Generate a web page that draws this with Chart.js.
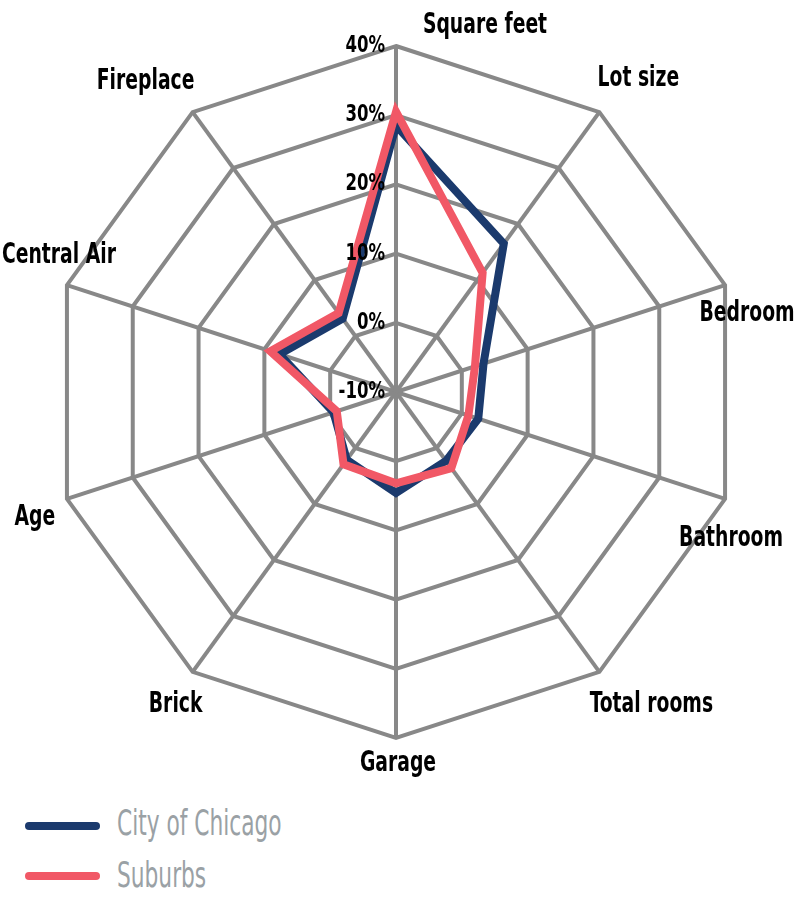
<!DOCTYPE html>
<html>
<head>
<meta charset="utf-8">
<script src="https://cdn.jsdelivr.net/npm/chart.js@4.4.1/dist/chart.umd.min.js"></script>
<style>
html,body{margin:0;padding:0;background:#fff;}
#wrap{position:relative;width:800px;height:900px;overflow:hidden;}
canvas{display:block;}
.swatch{position:absolute;left:25px;width:75px;height:8px;border-radius:4px;}
.txt{position:absolute;left:117px;font-family:"DejaVu Sans Condensed","Liberation Sans Narrow",sans-serif;font-size:35px;line-height:36px;color:#9aa1a5;transform:scaleX(0.69);transform-origin:left center;white-space:nowrap;}
</style>
</head>
<body>
<div id="wrap">
<canvas id="c" width="800" height="790"></canvas>
<div class="swatch" id="sw0" style="top:822px;"></div>
<div class="txt" id="tx0" style="top:805px;"></div>
<div class="swatch" id="sw1" style="top:872px;"></div>
<div class="txt" id="tx1" style="top:857px;"></div>
</div>
<script>
// ---- data ----
const categories = ['Square feet','Lot size','Bedroom','Bathroom','Total rooms','Garage','Brick','Age','Central Air','Fireplace'];
const cityValues = [28.5, 16.5, 3.3, 2.5, 2.3, 4.6, 2.1, -0.5, 7.7, 3.1];
const suburbValues = [30.5, 11.3, 2.0, 1.0, 3.6, 3.2, 2.9, -1.0, 9.1, 4.1];
const seriesNames = ['City of Chicago', 'Suburbs'];
const tickMin = -10, tickMax = 40, tickStep = 10;

// ---- styling ----
const seriesColors = ['#1b3a6d', '#f15866'];
const gridColor = '#888888';
const labelOffsets = [[89,-21],[39,-34],[22,28],[6,40],[52,33],[2,25],[-17,33],[-32,19],[-8,-30],[-47,-31]];
const labelFont = 'bold 29px "DejaVu Sans Condensed", "Liberation Sans Narrow", sans-serif';
const tickFont = 'bold 23px "DejaVu Sans Condensed", "Liberation Sans Narrow", sans-serif';
const labelSqueeze = 0.72, tickSqueeze = 0.8;

function squeezedText(ctx, text, x, y, sx) {
  ctx.save();
  ctx.translate(x, y);
  ctx.scale(sx, 1);
  ctx.fillText(text, 0, 0);
  ctx.restore();
}

const customText = {
  id: 'customText',
  afterDraw(chart) {
    const s = chart.scales.r;
    const ctx = chart.ctx;
    ctx.save();
    ctx.fillStyle = '#000';
    ctx.textBaseline = 'middle';
    // tick labels
    ctx.font = tickFont;
    ctx.textAlign = 'right';
    s.ticks.forEach(t => {
      const d = s.getDistanceFromCenterForValue(t.value);
      squeezedText(ctx, t.value + '%', s.xCenter - 11, s.yCenter - d, tickSqueeze);
    });
    // category labels
    ctx.font = labelFont;
    ctx.textAlign = 'center';
    chart.data.labels.forEach((lab, i) => {
      const p = s.getPointPosition(i, s.drawingArea);
      squeezedText(ctx, lab, p.x + labelOffsets[i][0], p.y + labelOffsets[i][1], labelSqueeze);
    });
    ctx.restore();
  }
};

new Chart(document.getElementById('c'), {
  type: 'radar',
  data: {
    labels: categories,
    datasets: [
      { label: seriesNames[0], data: cityValues, borderColor: seriesColors[0], backgroundColor: 'transparent',
        borderWidth: 8, pointRadius: 0, pointHoverRadius: 0, fill: false, order: 2 },
      { label: seriesNames[1], data: suburbValues, borderColor: seriesColors[1], backgroundColor: 'transparent',
        borderWidth: 8, pointRadius: 0, pointHoverRadius: 0, fill: false, order: 1 }
    ]
  },
  options: {
    responsive: false,
    animation: false,
    layout: { padding: { top: 46, left: 50, right: 58, bottom: 52 } },
    plugins: { legend: { display: false }, tooltip: { enabled: false } },
    elements: { line: { tension: 0, borderJoinStyle: 'miter' } },
    scales: {
      r: {
        min: tickMin, max: tickMax, beginAtZero: false,
        ticks: { stepSize: tickStep, display: false },
        pointLabels: { display: false },
        grid: { color: gridColor, lineWidth: 4 },
        angleLines: { color: gridColor, lineWidth: 4 }
      }
    }
  },
  plugins: [customText]
});

seriesNames.forEach((n, i) => {
  document.getElementById('sw' + i).style.background = seriesColors[i];
  document.getElementById('tx' + i).textContent = n;
});
</script>
</body>
</html>
